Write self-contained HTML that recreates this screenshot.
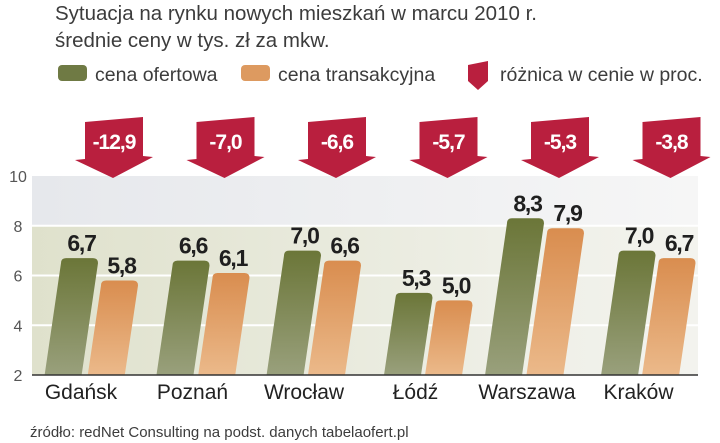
<!DOCTYPE html>
<html><head><meta charset="utf-8"><style>
body{margin:0;background:#fff;width:720px;height:443px;overflow:hidden;font-family:"Liberation Sans",sans-serif}
svg{display:block}
</style></head><body>
<svg id="chart" width="720" height="443" viewBox="0 0 720 443" xmlns="http://www.w3.org/2000/svg">
<defs>
<linearGradient id="gG" x1="0" y1="0" x2="0" y2="1"><stop offset="0" stop-color="#6b7638"/><stop offset="1" stop-color="#99a07c"/></linearGradient>
<linearGradient id="gO" x1="0" y1="0" x2="0" y2="1"><stop offset="0" stop-color="#d98d4f"/><stop offset="1" stop-color="#ebb98a"/></linearGradient>
<linearGradient id="bgBand" x1="0" y1="0" x2="1" y2="0"><stop offset="0" stop-color="#dfe1cc"/><stop offset="0.7" stop-color="#eeefe6"/><stop offset="1" stop-color="#f3f3ee"/></linearGradient>
<linearGradient id="bgTop" x1="0" y1="0" x2="1" y2="0"><stop offset="0" stop-color="#e6e8ec"/><stop offset="1" stop-color="#f6f6f6"/></linearGradient>
</defs>
<g fill="#3c3c3c" font-size="20.5">
<text x="55" y="20">Sytuacja na rynku nowych mieszkań w marcu 2010 r.</text>
<text x="55" y="47">średnie ceny w tys. zł za mkw.</text>
</g>
<g font-size="19.5" fill="#3c3c3c">
<rect x="58" y="65" width="29" height="16" rx="4" fill="#6f7a44"/>
<text x="95" y="81">cena ofertowa</text>
<rect x="241" y="65" width="29" height="16" rx="4" fill="#dd9a60"/>
<text x="278" y="81">cena transakcyjna</text>
<path d="M468,65 L488,61 L488,81 L478,90 L468,81 Z" fill="#b91f3e"/>
<text x="500" y="81">różnica w cenie w proc.</text>
</g>
<g id="plot"></g>
<text x="30" y="437" font-size="15" fill="#3c3c3c">źródło: redNet Consulting na podst. danych tabelaofert.pl</text>
</svg>
<script>
const categories=["Gdańsk","Poznań","Wrocław","Łódź","Warszawa","Kraków"];
const offerPrice=[6.7,6.6,7.0,5.3,8.3,7.0];
const transactionPrice=[5.8,6.1,6.6,5.0,7.9,6.7];
const difference=["-12,9","-7,0","-6,6","-5,7","-5,3","-3,8"];
const yTicks=[2,4,6,8,10];
const NS="http://www.w3.org/2000/svg";
const g=document.getElementById('plot');
const Y0=375,Y1=176,VMIN=2,VMAX=10;
function y(v){return Y0-(v-VMIN)/(VMAX-VMIN)*(Y0-Y1);}
function xg(i){return 61+i*111.5;}
const left=32,right=698,BW=37,SL=0.14;
function el(t,a,p){const e=document.createElementNS(NS,t);for(const k in a)e.setAttribute(k,a[k]);(p||g).appendChild(e);return e;}
const bgTop=el('rect',{x:left,y:y(10),width:right-left,height:y(8)-y(10),fill:'url(#bgTop)'});


const bgBand=el('rect',{x:left,y:y(8),width:right-left,height:y(2)-y(8),fill:'url(#bgBand)'});


yTicks.forEach(t=>{
  if(t>2&&t<10){const l=el('line',{x1:left,x2:right,y1:y(t),y2:y(t),stroke:'#fff','stroke-width':2});
  
  }
  const tx=el('text',{x:18,y:y(t)+6,'font-size':16,fill:'#555','text-anchor':'middle'});tx.textContent=t;
  
  
});
function bar(x0,v,fill,name){
  const top=y(v),h=Y0-top,sh=h*SL,r=5;
  const d=`M${x0-sh},${Y0} L${x0},${top+r} Q${x0},${top} ${x0+r},${top} L${x0+BW-r},${top} Q${x0+BW},${top} ${x0+BW},${top+r} L${x0+BW-sh},${Y0} Z`;
  const p=el('path',{d:d,fill:fill});
  
  
  const t=el('text',{x:x0+BW/2+2,y:top-7,'font-size':23,'font-weight':'bold',fill:'#1f1f1f','text-anchor':'middle','letter-spacing':'-1.2'});
  t.textContent=v.toFixed(1).replace('.',',');
  
  
}
categories.forEach((c,i)=>{
  const x=xg(i);
  bar(x,offerPrice[i],'url(#gG)','bar-offer-'+i);
  bar(x+40,transactionPrice[i],'url(#gO)','bar-transaction-'+i);
  const cx=x+52;
  const a=el('path',{d:`M${cx-28},${122} L${cx+30},${117} L${cx+30},${156} L${cx+40},${157} L${cx},${178} L${cx-38},${160} L${cx-28},${159} Z`,fill:'#b91f3e'});
  
  
  const at=el('text',{x:cx+1,y:149,'font-size':21,'font-weight':'bold',fill:'#fff','text-anchor':'middle','letter-spacing':'-1'});
  at.textContent=difference[i];
  
  
  const ct=el('text',{x:x+20,y:399,'font-size':21,fill:'#222','text-anchor':'middle'});
  ct.textContent=c;
  
  
});
const ax=el('line',{x1:left,x2:right,y1:Y0,y2:Y0,stroke:'#333','stroke-width':1.5});


</script>
</body></html>
